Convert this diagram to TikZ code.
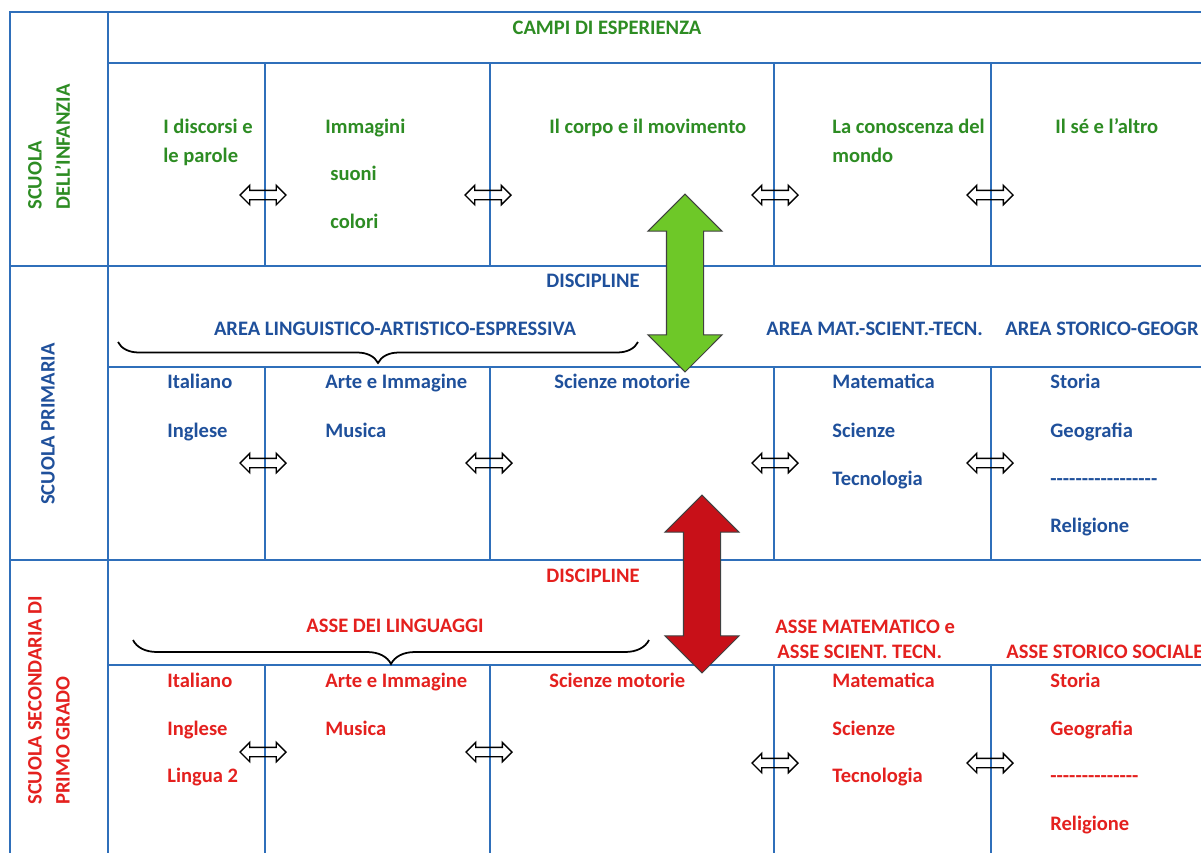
\documentclass[tikz,border=0pt]{standalone}
\usepackage{fontspec}
\setmainfont{Carlito}
\usetikzlibrary{shapes.arrows,decorations.pathreplacing,positioning}
\definecolor{lineblue}{RGB}{47,111,186}
\definecolor{txtgreen}{RGB}{45,140,35}
\definecolor{txtblue}{RGB}{31,80,155}
\definecolor{txtred}{RGB}{228,32,30}
\definecolor{arrgreen}{RGB}{110,200,40}
\definecolor{arrred}{RGB}{200,16,24}
\newcommand{\hy}{\mbox{-}}

\begin{document}
\begin{tikzpicture}[x=0.02cm,y=-0.02cm,
  grid/.style={lineblue,line width=1.1pt},
  txt/.style={font=\fontsize{11.7}{16}\selectfont\bfseries,inner sep=0pt},
  item/.style={txt,anchor=base west},
  swap/.style={double arrow,draw=black,line width=0.8pt,minimum height=0.92cm,inner xsep=0pt,inner ysep=0.08cm,double arrow head extend=0.1cm},
  big/.style={double arrow,rotate=90,draw=black!75,line width=0.6pt,minimum height=3.56cm,inner xsep=0pt,inner ysep=0.36cm,double arrow head extend=0.37cm},
  brc/.style={decorate,decoration={brace,mirror,amplitude=#1},black,line width=1pt}]
\useasboundingbox (0,0) rectangle (1201,853);
\clip (0,0) rectangle (1201,853);

% table lines
\draw[grid] (1201,12) -- (10,12) -- (10,853);
\draw[grid] (108,12) -- (108,853);
\draw[grid] (108,63) -- (1201,63);
\draw[grid] (10,266) -- (1201,266);
\draw[grid] (108,367) -- (1201,367);
\draw[grid] (10,560) -- (1201,560);
\draw[grid] (108,665) -- (1201,665);
\draw[grid] (265,63) -- (265,266) (490,63) -- (490,266) (774,63) -- (774,266) (991,63) -- (991,266);
\draw[grid] (265,367) -- (265,560) (490,367) -- (490,560) (774,367) -- (774,560) (991,367) -- (991,560);
\draw[grid] (265,665) -- (265,853) (490,665) -- (490,853) (774,665) -- (774,853) (991,665) -- (991,853);

% row titles
\node[txt,txtgreen,rotate=90,anchor=west,align=left] (infanzia) at (49,210) {SCUOLA\\DELL’INFANZIA};
\node[txt,txtblue,rotate=90] (primaria) at (48,424) {SCUOLA PRIMARIA};
\node[txt,txtred,rotate=90,anchor=west,align=left] (secondaria) at (49,805) {SCUOLA SECONDARIA DI\\PRIMO GRADO};

% scuola dell'infanzia
\node[txt,txtgreen,anchor=base] (campi) at (607,34) {CAMPI DI ESPERIENZA};
\node[item,txtgreen] (disc1) at (163,133) {I discorsi e};
\node[item,txtgreen] (disc2) at (163,162) {le parole};
\node[item,txtgreen] (imm) at (325,133) {Immagini};
\node[item,txtgreen] (suoni) at (330,180) {suoni};
\node[item,txtgreen] (colori) at (330,228) {colori};
\node[item,txtgreen] (corpo) at (549,133) {Il corpo e il movimento};
\node[item,txtgreen] (conosc1) at (832,133) {La conoscenza del};
\node[item,txtgreen] (conosc2) at (832,162) {mondo};
\node[item,txtgreen] (se) at (1055,133) {Il sé e l’altro};

% scuola primaria
\node[txt,txtblue,anchor=base] (discP) at (593,287) {DISCIPLINE};
\node[txt,txtblue,anchor=base] (areaLin) at (395,335) {AREA LINGUISTICO-ARTISTICO-ESPRESSIVA};
\node[item,txtblue] (areaMat) at (766,335) {AREA MAT.-SCIENT.-TECN.};
\node[item,txtblue] (areaSto) at (1005,335) {AREA STORICO-GEOGR};
\node[item,txtblue] (itaP) at (167,388) {Italiano};
\node[item,txtblue] (ingP) at (167,437) {Inglese};
\node[item,txtblue] (arteP) at (325,388) {Arte e Immagine};
\node[item,txtblue] (musP) at (325,437) {Musica};
\node[item,txtblue] (motP) at (554,388) {Scienze motorie};
\node[item,txtblue] (matP) at (832,388) {Matematica};
\node[item,txtblue] (sciP) at (832,437) {Scienze};
\node[item,txtblue] (tecP) at (832,485) {Tecnologia};
\node[item,txtblue] (stoP) at (1050,388) {Storia};
\node[item,txtblue] (geoP) at (1050,437) {Geografia};
\node[item,txtblue] (lineP) at (1050,485) {\hy\hy\hy\hy\hy\hy\hy\hy\hy\hy\hy\hy\hy\hy\hy\hy\hy};
\node[item,txtblue] (relP) at (1050,532) {Religione};

% scuola secondaria
\node[txt,txtred,anchor=base] (discS) at (593,582) {DISCIPLINE};
\node[txt,txtred,anchor=base] (asseLin) at (395,632) {ASSE DEI LINGUAGGI};
\node[item,txtred] (asseMat1) at (775,633) {ASSE MATEMATICO e};
\node[item,txtred] (asseMat2) at (777,658) {ASSE SCIENT. TECN.};
\node[item,txtred] (asseSto) at (1006,658) {ASSE STORICO SOCIALE};
\node[item,txtred] (itaS) at (167,687) {Italiano};
\node[item,txtred] (ingS) at (167,735) {Inglese};
\node[item,txtred] (lin2S) at (167,782) {Lingua 2};
\node[item,txtred] (arteS) at (325,687) {Arte e Immagine};
\node[item,txtred] (musS) at (325,735) {Musica};
\node[item,txtred] (motS) at (549,687) {Scienze motorie};
\node[item,txtred] (matS) at (832,687) {Matematica};
\node[item,txtred] (sciS) at (832,735) {Scienze};
\node[item,txtred] (tecS) at (832,782) {Tecnologia};
\node[item,txtred] (stoS) at (1050,687) {Storia};
\node[item,txtred] (geoS) at (1050,735) {Geografia};
\node[item,txtred] (lineS) at (1050,782) {\hy\hy\hy\hy\hy\hy\hy\hy\hy\hy\hy\hy\hy\hy};
\node[item,txtred] (relS) at (1050,830) {Religione};

% braces
\coordinate (bl1) at (118,342);
\coordinate (br1) at (638,342);
\draw[brc=0.42cm] (bl1) -- (br1);
\coordinate (bl2) at (133,640);
\coordinate (br2) at (649,640);
\draw[brc=0.48cm] (bl2) -- (br2);

% white double arrows
\node[swap] (sI1) at (263,195) {};
\node[swap] (sI2) at (488,195) {};
\node[swap] (sI3) at (775,195) {};
\node[swap] (sI4) at (990,195) {};
\node[swap] (sP1) at (263,463) {};
\node[swap] (sP2) at (489,463) {};
\node[swap] (sP3) at (775,463) {};
\node[swap] (sP4) at (990,463) {};
\node[swap] (sS1) at (263,752) {};
\node[swap] (sS2) at (489,752) {};
\node[swap] (sS3) at (775,763) {};
\node[swap] (sS4) at (990,763) {};

% big arrows
\node[big,fill=arrgreen] (green) at (685,283) {};
\node[big,fill=arrred] (red) at (702,584) {};
\end{tikzpicture}
\end{document}
